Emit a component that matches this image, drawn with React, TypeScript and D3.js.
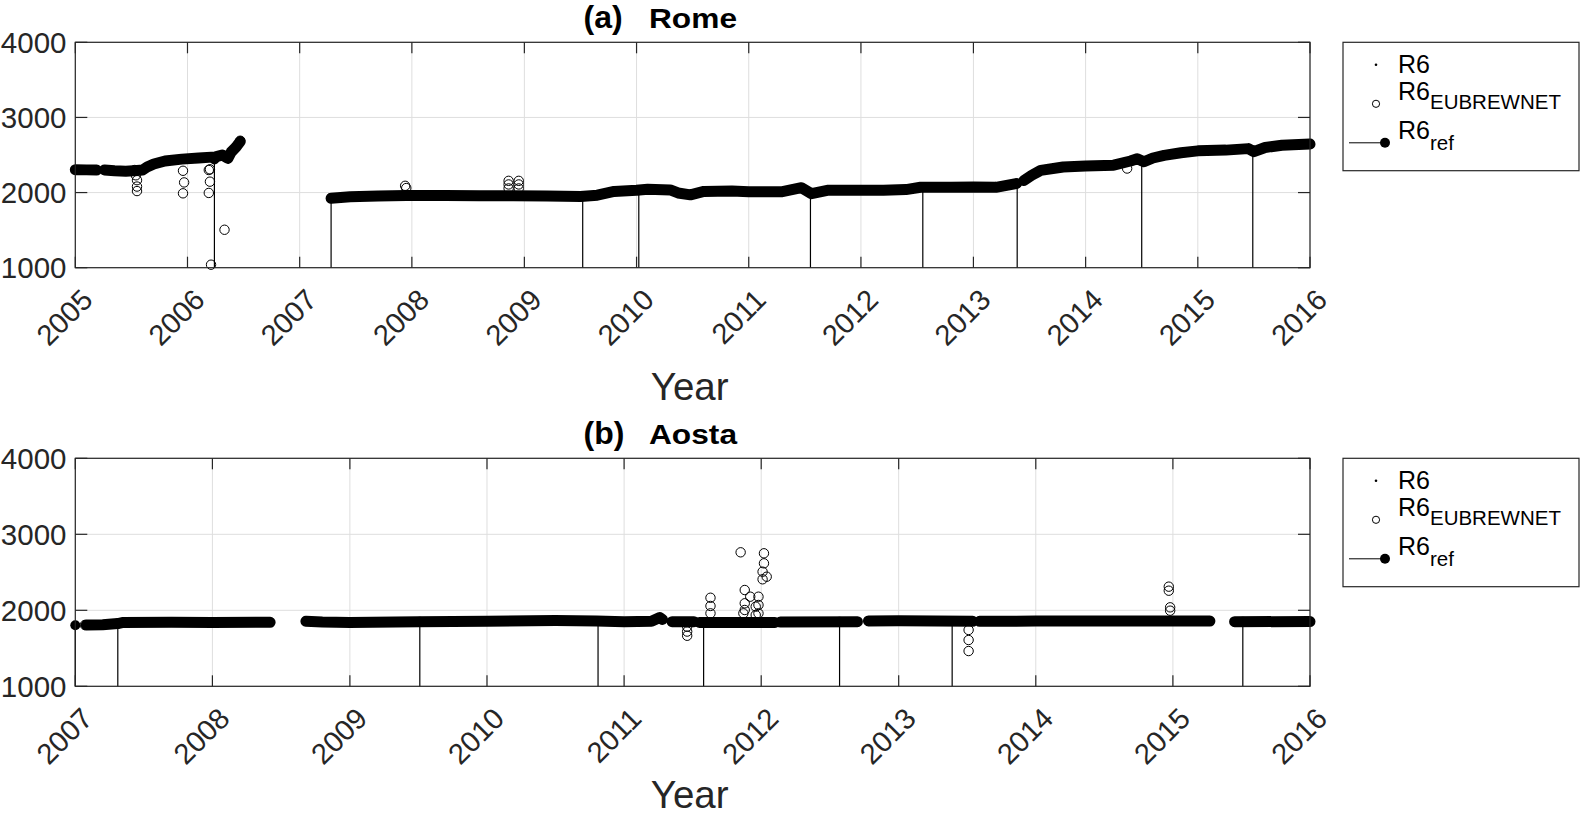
import React from 'react';
import * as d3 from 'd3';

type P = [number, number];

// ---------- data (decimal year, value) ----------
const romeYears = [2005, 2006, 2007, 2008, 2009, 2010, 2011, 2012, 2013, 2014, 2015, 2016];
const aostaYears = [2007, 2008, 2009, 2010, 2011, 2012, 2013, 2014, 2015, 2016];
const yTicks = [1000, 2000, 3000, 4000];

// R6 daily values (dense band), segments separated by data gaps
const romeDaily: P[][] = [
  [[2005.0, 2305], [2005.1, 2302], [2005.19, 2300]],
  [[2005.26, 2300], [2005.35, 2290], [2005.45, 2285], [2005.55, 2295], [2005.6, 2300], [2005.64, 2340],
   [2005.7, 2380], [2005.8, 2420], [2005.95, 2445], [2006.1, 2460], [2006.25, 2475], [2006.31, 2500],
   [2006.36, 2455], [2006.39, 2540], [2006.43, 2600], [2006.47, 2680]],
  [[2007.28, 1925], [2007.45, 1945], [2007.7, 1955], [2007.95, 1962], [2008.3, 1960], [2008.6, 1958],
   [2008.9, 1958], [2009.2, 1955], [2009.5, 1948], [2009.65, 1965], [2009.8, 2015], [2010.0, 2030],
   [2010.1, 2045], [2010.3, 2035], [2010.37, 1995], [2010.48, 1970], [2010.6, 2015], [2010.85, 2022],
   [2011.0, 2010], [2011.3, 2012], [2011.47, 2065], [2011.56, 1985], [2011.7, 2030], [2012.0, 2030],
   [2012.2, 2030], [2012.4, 2040], [2012.53, 2070], [2012.8, 2070], [2013.0, 2075], [2013.2, 2070],
   [2013.38, 2120]],
  [[2013.45, 2160], [2013.52, 2230], [2013.6, 2295], [2013.8, 2340], [2014.0, 2355], [2014.25, 2365],
   [2014.4, 2420], [2014.46, 2450], [2014.52, 2410], [2014.6, 2460], [2014.7, 2495], [2014.85, 2530],
   [2015.0, 2555], [2015.25, 2565], [2015.45, 2585], [2015.5, 2545], [2015.6, 2600], [2015.75, 2630],
   [2016.0, 2645]],
];

const romeEubrewnet: P[] = [
  [2005.53, 2300], [2005.54, 2230], [2005.55, 2165], [2005.55, 2080], [2005.55, 2020],
  [2005.96, 2290], [2005.97, 2135], [2005.96, 1990],
  [2006.19, 2300], [2006.2, 2310], [2006.2, 2145], [2006.19, 1995],
  [2006.33, 1505], [2006.21, 1040], [2006.47, 2690],
  [2007.94, 2090], [2007.95, 2060],
  [2008.86, 2156], [2008.86, 2108], [2008.86, 2055],
  [2008.95, 2156], [2008.95, 2108], [2008.95, 2055],
  [2014.37, 2320],
];

const romeRef: P[] = [
  [2006.24, 2440], [2007.28, 1925], [2009.52, 1950], [2010.02, 2030], [2011.55, 1990],
  [2012.55, 2070], [2013.39, 2120], [2014.5, 2420], [2015.49, 2550],
];

const aostaDaily: P[][] = [
  [[2007.08, 1805], [2007.2, 1810], [2007.31, 1825], [2007.35, 1840], [2007.7, 1842], [2008.0, 1840], [2008.42, 1842]],
  [[2008.68, 1855], [2008.8, 1845], [2009.0, 1840], [2009.5, 1850], [2010.0, 1855], [2010.5, 1865],
   [2010.8, 1860], [2011.0, 1850], [2011.2, 1855], [2011.26, 1905], [2011.28, 1880]],
  [[2011.35, 1850], [2011.51, 1850]],
  [[2011.55, 1840], [2012.1, 1840]],
  [[2012.14, 1845], [2012.7, 1850]],
  [[2012.78, 1860], [2013.0, 1862], [2013.54, 1855]],
  [[2013.59, 1855], [2014.0, 1858], [2014.5, 1858], [2015.0, 1860], [2015.27, 1858]],
  [[2015.45, 1850], [2016.0, 1852]],
];

const aostaEubrewnet: P[] = [
  [2011.46, 1785], [2011.46, 1720], [2011.46, 1665],
  [2011.63, 2165], [2011.63, 2057], [2011.63, 1960],
  [2011.85, 2763],
  [2011.88, 2267], [2011.88, 2092], [2011.88, 2004], [2011.87, 1960],
  [2011.92, 2179],
  [2011.96, 2048], [2011.96, 1938],
  [2011.98, 2179], [2011.98, 2070], [2011.98, 1960],
  [2012.01, 2408], [2012.01, 2508],
  [2012.02, 2750], [2012.02, 2618], [2012.04, 2442], [2012.07, 1842],
  [2013.51, 1741], [2013.51, 1609], [2013.51, 1464],
  [2014.97, 2311], [2014.97, 2258], [2014.98, 2039], [2014.98, 1995],
  [2007.07, 1807],
];

const aostaRef: P[] = [
  [2007.0, 1803], [2007.31, 1825], [2009.51, 1850], [2010.81, 1860], [2011.58, 1840],
  [2012.57, 1850], [2013.39, 1860], [2015.51, 1850],
];

// ---------- helpers ----------
function toDate(dy: number): Date {
  const y = Math.floor(dy);
  const s = Date.UTC(y, 0, 1);
  const e = Date.UTC(y + 1, 0, 1);
  return new Date(s + (dy - y) * (e - s));
}

const FONT = "'Liberation Sans', Arial, Helvetica, sans-serif";
const AX = '#262626';
const GRID = '#dedede';

const LEFT = 75.3;
const RIGHT = 1310;

interface PanelProps {
  top: number;
  bottom: number;
  years: number[];
  letter: string;
  name: string;
  daily: P[][];
  eub: P[];
  ref: P[];
  yearBaseline: number;
}

function Panel({ top, bottom, years, letter, name, daily, eub, ref, yearBaseline }: PanelProps) {
  const x = d3.scaleUtc()
    .domain([toDate(years[0]), toDate(years[years.length - 1])])
    .range([LEFT, RIGHT]);
  const y = d3.scaleLinear().domain([1000, 4000]).range([bottom, top]);
  const line = d3.line<P>()
    .x(d => x(toDate(d[0])))
    .y(d => y(d[1]));
  const tick = 11;

  const legX = 1343;
  const legW = 236;
  const legH = 128.4;
  const m1 = top + 22.5;
  const m2 = top + 61.5;
  const m3 = top + 100.5;

  return (
    <g>
      {/* grid */}
      {years.map(yr => (
        <line key={'gx' + yr} x1={x(toDate(yr))} x2={x(toDate(yr))} y1={top} y2={bottom} stroke={GRID} strokeWidth={1} />
      ))}
      {yTicks.map(v => (
        <line key={'gy' + v} x1={LEFT} x2={RIGHT} y1={y(v)} y2={y(v)} stroke={GRID} strokeWidth={1} />
      ))}

      {/* stems (R6 ref) */}
      {ref.map((d, i) => (
        <line key={'st' + i} x1={x(toDate(d[0]))} x2={x(toDate(d[0]))} y1={y(1000)} y2={y(d[1])} stroke="#000" strokeWidth={1.2} />
      ))}

      {/* dense daily band */}
      {daily.map((seg, i) => (
        <path key={'b' + i} d={line(seg) || ''} fill="none" stroke="#000" strokeWidth={11}
          strokeLinecap="round" strokeLinejoin="round" />
      ))}

      {/* EUBREWNET circles */}
      {eub.map((d, i) => (
        <circle key={'c' + i} cx={x(toDate(d[0]))} cy={y(d[1])} r={4.7} fill="none" stroke="#000" strokeWidth={1} />
      ))}

      {/* ref markers */}
      {ref.map((d, i) => (
        <circle key={'rm' + i} cx={x(toDate(d[0]))} cy={y(d[1])} r={5} fill="#000" />
      ))}

      {/* axes box and ticks */}
      <rect x={LEFT} y={top} width={RIGHT - LEFT} height={bottom - top} fill="none" stroke={AX} strokeWidth={1.2} />
      {years.map(yr => {
        const xx = x(toDate(yr));
        return (
          <g key={'t' + yr}>
            <line x1={xx} x2={xx} y1={bottom} y2={bottom - tick} stroke={AX} strokeWidth={1.2} />
            <line x1={xx} x2={xx} y1={top} y2={top + tick} stroke={AX} strokeWidth={1.2} />
            <text transform={`translate(${xx + 19},${bottom + 34}) rotate(-45)`} textAnchor="end"
              fontFamily={FONT} fontSize={29} fill={AX}>{yr}</text>
          </g>
        );
      })}
      {yTicks.map(v => (
        <g key={'yt' + v}>
          <line x1={LEFT} x2={LEFT + 12} y1={y(v)} y2={y(v)} stroke={AX} strokeWidth={1.2} />
          <line x1={RIGHT} x2={RIGHT - 12} y1={y(v)} y2={y(v)} stroke={AX} strokeWidth={1.2} />
          <text x={66.5} y={y(v)} dy="0.36em" textAnchor="end" fontFamily={FONT} fontSize={29.5} fill={AX}>{v}</text>
        </g>
      ))}

      {/* axis label */}
      <text x={(LEFT + RIGHT) / 2 - 3} y={yearBaseline} textAnchor="middle" fontFamily={FONT} fontSize={38.5} fill={AX}>Year</text>

      {/* title */}
      <text y={top - 14} fontFamily={FONT} fontWeight="bold" fill="#000">
        <tspan x={583.5} fontSize={32}>({letter})</tspan>
      </text>
      <text x={649} y={top - 14} fontFamily={FONT} fontWeight="bold" fill="#000" fontSize={28}
        textLength={88} lengthAdjust="spacingAndGlyphs">{name}</text>

      {/* legend */}
      <g fontFamily={FONT} fill="#000">
        <rect x={legX} y={top} width={legW} height={legH} fill="#fff" stroke={AX} strokeWidth={1.2} />
        <circle cx={1376} cy={m1} r={1.3} fill="#000" />
        <text x={1398} y={m1 + 8} fontSize={25}>R6</text>

        <circle cx={1376} cy={m2} r={3.6} fill="none" stroke="#000" strokeWidth={1} />
        <text x={1398} y={m2 - 4} fontSize={25}>R6<tspan fontSize={20.5} dy={9}>EUBREWNET</tspan></text>

        <line x1={1349} x2={1385} y1={m3} y2={m3} stroke="#000" strokeWidth={1} />
        <circle cx={1385} cy={m3} r={5} fill="#000" />
        <text x={1398} y={m3 - 4} fontSize={25}>R6<tspan fontSize={20.5} dy={11}>ref</tspan></text>
      </g>
    </g>
  );
}

export default function App() {
  return (
    <svg width={1586} height={813} viewBox="0 0 1586 813"
      style={{ position: 'absolute', left: 0, top: 0, background: '#fff', display: 'block' }}>
      <rect x={0} y={0} width={1586} height={813} fill="#fff" />
      <Panel top={42.3} bottom={267.7} years={romeYears} letter="a" name="Rome"
        daily={romeDaily} eub={romeEubrewnet} ref={romeRef} yearBaseline={400} />
      <Panel top={458.3} bottom={686.3} years={aostaYears} letter="b" name="Aosta"
        daily={aostaDaily} eub={aostaEubrewnet} ref={aostaRef} yearBaseline={808} />
    </svg>
  );
}
